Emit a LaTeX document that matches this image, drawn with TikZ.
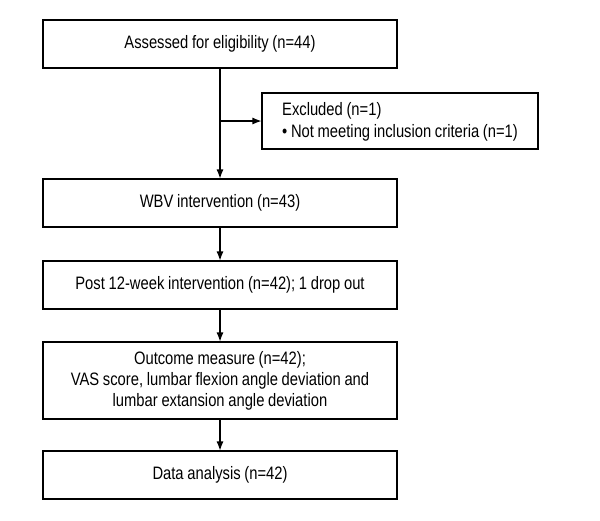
\documentclass[tikz,border=0pt]{standalone}
\usepackage{fontspec}
\setmainfont{Liberation Sans}[FakeStretch=0.82,WordSpace={0.9,0,0}]
\usetikzlibrary{arrows.meta}
\begin{document}
\begin{tikzpicture}[x=1pt,y=-1pt,
  box/.style={draw,line width=1.1pt,minimum width=354pt,minimum height=48pt,inner sep=2pt,align=center,font=\fontsize{18}{21}\selectfont},
  arr/.style={line width=1.1pt,-{Latex[length=9pt,width=7pt]}}]
\useasboundingbox (0,0) rectangle (600,520);
\node[box] (b1) at (220,44) {Assessed for eligibility (n=44)};
\node[box,minimum width=276pt,minimum height=56pt,align=left,font=\fontsize{18}{22}\selectfont] (exc) at (400,121) {\strut Excluded (n=1)\\\textbullet\ Not meeting inclusion criteria (n=1)};
\node[box] (wbv) at (220,203) {WBV intervention (n=43)};
\node[box] (post) at (220,285) {Post 12-week intervention (n=42); 1 drop out};
\node[box,minimum height=77pt] (out) at (220,380.5) {Outcome measure (n=42);\\VAS score, lumbar flexion angle deviation and\\lumbar extansion angle deviation};
\node[box] (data) at (220,475) {Data analysis (n=42)};
\draw[arr] (b1.south) -- (wbv.north);
\draw[arr] (b1.south |- exc.west) -- (exc.west);
\draw[arr] (wbv.south) -- (post.north);
\draw[arr] (post.south) -- (out.north);
\draw[arr] (out.south) -- (data.north);
\end{tikzpicture}
\end{document}
